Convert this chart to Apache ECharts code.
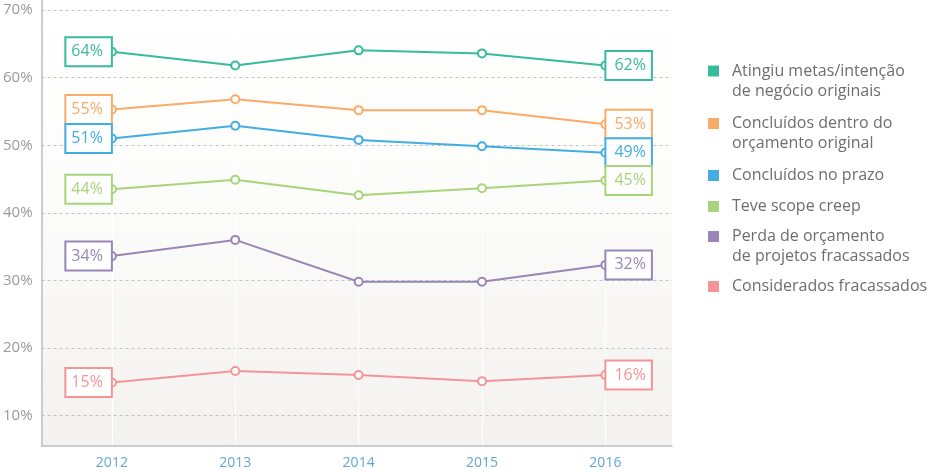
<!DOCTYPE html>
<html>
<head>
<meta charset="utf-8">
<script src="https://cdn.jsdelivr.net/npm/echarts@6/dist/echarts.min.js"></script>
<style>
  html, body { margin: 0; padding: 0; background: #fff; }
  #chart { width: 928px; height: 470px; }
</style>
</head>
<body>
<div id="chart"></div>
<script>
var years = [2012, 2013, 2014, 2015, 2016];

var nomes = [
  'Atingiu metas/intenção\nde negócio originais',
  'Concluídos dentro do\norçamento original',
  'Concluídos no prazo',
  'Teve scope creep',
  'Perda de orçamento\nde projetos fracassados',
  'Considerados fracassados'
];

var metas = [63.85, 61.8, 64.05, 63.6, 61.8];
var orcamento = [55.3, 56.8, 55.2, 55.2, 53.1];
var prazo = [51.0, 52.9, 50.8, 49.85, 48.9];
var scopeCreep = [43.5, 44.9, 42.6, 43.65, 44.8];
var perdaOrcamento = [33.6, 36.0, 29.8, 29.8, 32.3];
var fracassados = [14.9, 16.6, 16.0, 15.1, 16.0];

var cores = ['#38bb9c', '#f9ab67', '#43ade3', '#a8d47a', '#9886b8', '#f59496'];
var fonte = '"Open Sans", "Noto Sans", sans-serif';

var valores = [metas, orcamento, prazo, scopeCreep, perdaOrcamento, fracassados];

function boxLabel(pos, color) {
  return {
    show: true,
    position: pos,
    distance: -4,
    formatter: function (p) { return Math.round(p.value[1]) + '%'; },
    color: color,
    fontFamily: fonte,
    fontSize: 16,
    lineHeight: 19,
    backgroundColor: '#fff',
    borderColor: color,
    borderWidth: 2,
    padding: pos === 'left' ? [4, 8, 4, 5] : [4, 5, 4, 8]
  };
}

function buildData(vals, color) {
  return vals.map(function (v, i) {
    var item = {value: [years[i], v]};
    if (i === 0) item.label = boxLabel('left', color);
    if (i === vals.length - 1) item.label = boxLabel('right', color);
    return item;
  });
}

var series = [];
for (var i = 0; i < nomes.length; i++) {
  series.push({
    name: nomes[i],
    type: 'line',
    data: buildData(valores[i], cores[i]),
    symbol: 'emptyCircle',
    symbolSize: 8,
    lineStyle: {width: 2, color: cores[i]},
    itemStyle: {color: cores[i], borderWidth: 2},
    label: {show: false},
    z: 3
  });
}

// one legend block per item; an empty first line keeps the icon level with the first text line
var legendTops = [41, 93.5, 165.5, 196.5, 206.5, 276.5];
var legends = nomes.map(function (n, i) {
  return {
    left: 708,
    top: legendTops[i],
    padding: 0,
    orient: 'vertical',
    icon: 'rect',
    itemWidth: 11,
    itemHeight: 11,
    selectedMode: false,
    data: [n],
    formatter: function (name) {
      return name.indexOf('\n') >= 0 ? '\n' + name : name;
    },
    textStyle: {
      fontFamily: fonte,
      fontSize: 16,
      lineHeight: 20,
      color: '#6d6e71',
      padding: [0, 0, 0, 8]
    }
  };
});

var myChart = echarts.init(document.getElementById('chart'));
myChart.setOption({
  animation: false,
  legend: legends,
  grid: {
    left: 40,
    right: 256,
    top: 0,
    bottom: 22,
    show: true,
    borderWidth: 0,
    backgroundColor: {
      type: 'linear', x: 0, y: 0, x2: 0, y2: 1,
      colorStops: [
        {offset: 0, color: '#ffffff'},
        {offset: 0.35, color: '#fdfdfc'},
        {offset: 1, color: '#f3f2ef'}
      ]
    }
  },
  xAxis: {
    type: 'value',
    min: 2011.43,
    max: 2016.54,
    axisLine: {show: true, lineStyle: {color: '#bdbdbd', width: 1.5}},
    axisTick: {show: false},
    axisLabel: {
      color: '#62a7d3',
      fontFamily: fonte,
      fontSize: 14,
      margin: 10,
      formatter: function (v) { return Math.abs(v - Math.round(v)) < 1e-6 ? String(Math.round(v)) : ''; }
    },
    splitLine: {show: true, showMinLine: false, showMaxLine: false, lineStyle: {color: '#ffffff', width: 1}}
  },
  yAxis: {
    type: 'value',
    min: 5.5,
    max: 71.5,
    axisLine: {show: true, lineStyle: {color: '#bdbdbd', width: 1.5}},
    axisTick: {show: false},
    axisLabel: {
      color: '#9a9a9a',
      fontFamily: fonte,
      fontSize: 15,
      margin: 9,
      formatter: function (v) { return v % 10 === 0 ? v + '%' : ''; }
    },
    splitLine: {
      show: true,
      showMinLine: false,
      showMaxLine: false,
      lineStyle: {color: '#c2c2c2', width: 1, type: [3, 3]}
    }
  },
  series: series
});
</script>
</body>
</html>
